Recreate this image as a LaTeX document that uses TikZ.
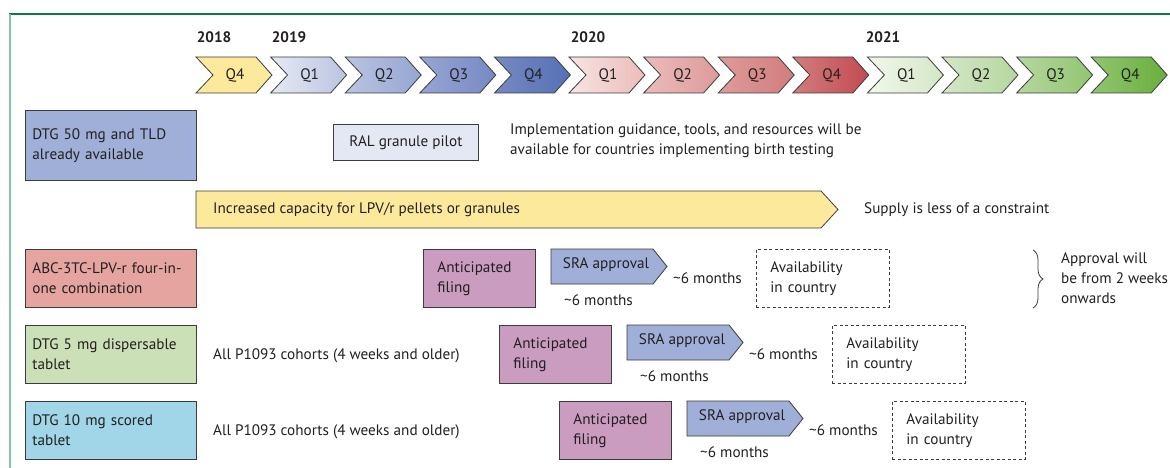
\documentclass[tikz,border=0pt]{standalone}
\usepackage{fontspec}
\setmainfont{PT Sans}
\usepackage{xcolor}
\definecolor{inkgrey}{RGB}{35, 31, 32}
\definecolor{edgegrey}{RGB}{60, 60, 60}
\definecolor{framegreen}{RGB}{10, 122, 74}
\definecolor{framemint}{RGB}{128, 198, 164}
\definecolor{quarteryellow}{RGB}{253, 233, 156}
\definecolor{blueA}{RGB}{230, 233, 244}
\definecolor{blueB}{RGB}{186, 196, 225}
\definecolor{blueC}{RGB}{150, 166, 211}
\definecolor{blueD}{RGB}{118, 137, 196}
\definecolor{blueE}{RGB}{85, 113, 180}
\definecolor{redA}{RGB}{248, 228, 226}
\definecolor{redB}{RGB}{234, 188, 186}
\definecolor{redC}{RGB}{221, 155, 154}
\definecolor{redD}{RGB}{210, 125, 124}
\definecolor{redE}{RGB}{194, 74, 83}
\definecolor{greenA}{RGB}{242, 248, 236}
\definecolor{greenB}{RGB}{211, 231, 198}
\definecolor{greenC}{RGB}{181, 215, 159}
\definecolor{greenD}{RGB}{145, 198, 112}
\definecolor{greenE}{RGB}{105, 174, 61}
\definecolor{dtgblue}{RGB}{160, 175, 216}
\definecolor{ralgrey}{RGB}{228, 232, 244}
\definecolor{abcred}{RGB}{229, 164, 160}
\definecolor{dtggreen}{RGB}{203, 224, 182}
\definecolor{dtgcyan}{RGB}{160, 214, 232}
\definecolor{filingmauve}{RGB}{201, 156, 192}
\usepackage{tikz}
\usetikzlibrary{positioning, decorations.pathreplacing}

\tikzset{
  box/.style={draw=edgegrey, line width=0.8pt, anchor=north west, align=left,
    inner xsep=7pt, inner ysep=0pt},
  availbox/.style={box, dashed, dash pattern=on 3pt off 2.5pt, fill=none},
  note/.style={anchor=west, align=left, inner sep=0pt},
  year/.style={font=\fontsize{15.2}{20}\selectfont\bfseries, inner sep=0pt},
  outline/.style={draw=edgegrey, line width=0.8pt},
}

\begin{document}
\begin{tikzpicture}[x=1pt, y=-1pt, font=\fontsize{15.2}{20}\selectfont, text=inkgrey]
    \useasboundingbox (0,0) rectangle (1170,468);

    % frame
    \draw[framegreen, line width=1.2pt] (9,14) -- (1170,14);
    \draw[framemint, line width=2pt] (10,14) -- (10,468);

    % years and quarters
    \node[year] (yeara) at (214,37) {2018};
    \node[year] (yearb) at (289,37) {2019};
    \node[year] (yearc) at (588,37) {2020};
    \node[year] (yeard) at (883,37) {2021};
    \foreach \i/\q/\cl/\cr in {0/Q4/quarteryellow/quarteryellow,
        1/Q1/blueA/blueB, 2/Q2/blueB/blueC, 3/Q3/blueC/blueD, 4/Q4/blueD/blueE,
        5/Q1/redA/redB, 6/Q2/redB/redC, 7/Q3/redC/redD, 8/Q4/redD/redE,
        9/Q1/greenA/greenB, 10/Q2/greenB/greenC, 11/Q3/greenC/greenD, 12/Q4/greenD/greenE} {
        \pgfmathsetmacro\xa{196+74.6*\i}
        \path[outline, left color=\cl, right color=\cr] (\xa,57) -- ++(60,0) -- ++(16,18)
            -- ++(-16,18) -- ++(-60,0) -- ++(17,-18) -- cycle;
        \node (quarter\i) at (\xa+39,75) {\q};
    }

    % row 1
    \node[box, fill=dtgblue, minimum width=171pt, minimum height=70pt, text width=157pt]
        (dtgfifty) at (25,110) {DTG 50 mg and TLD\\already available};
    \node[box, fill=ralgrey, minimum width=145pt, minimum height=36pt, align=center, inner xsep=0pt]
        (ral) at (333,124) {RAL granule pilot};
    \node[note] (guidance) at (510,141) {Implementation guidance, tools, and resources will be\\available for countries implementing birth testing};

    % row 2
    \path[outline, fill=quarteryellow] (196,191) -- (821,191) -- (838,209.5) -- (821,228) -- (196,228) -- cycle;
    \node[note] (lpv) at (213,209.5) {Increased capacity for LPV/r pellets or granules};
    \node[note] (supply) at (864,209.5) {Supply is less of a constraint};

    % rows 3 to 5
    \node[box, fill=abcred, minimum width=171pt, minimum height=58pt, text width=157pt]
        (abc) at (25,249) {ABC-3TC-LPV-r four-in-\\one combination};
    \node[box, fill=dtggreen, minimum width=171pt, minimum height=58pt, text width=157pt]
        (five) at (25,325) {DTG 5 mg dispersable\\tablet};
    \node[box, fill=dtgcyan, minimum width=171pt, minimum height=58pt, text width=157pt]
        (ten) at (25,401) {DTG 10 mg scored\\tablet};
    \node[note] (cohortfive) at (213,356) {All P1093 cohorts (4 weeks and older)};
    \node[note] (cohortten) at (213,432) {All P1093 cohorts (4 weeks and older)};

    \foreach \r/\xo/\yo in {abc/423/249, five/499/325, ten/559/401} {
        \node[box, fill=filingmauve, minimum width=112pt, minimum height=58pt, text width=84pt, inner xsep=14pt]
            (filing\r) at (\xo,\yo) {Anticipated\\filing};
        \path[outline, fill=dtgblue] (\xo+128,\yo) -- ++(102,0) -- ++(14,17.5) -- ++(-14,17.5)
            -- ++(-102,0) -- cycle;
        \node (sra\r) at (\xo+183,\yo+16) {SRA approval};
        \node[note] (waitsra\r) at (\xo+141,\yo+51) {\textasciitilde6 months};
        \node[note] (waitavail\r) at (\xo+250,\yo+29) {\textasciitilde6 months};
        \node[availbox, minimum width=133pt, minimum height=58pt, text width=105pt, inner xsep=14pt]
            (avail\r) at (\xo+333,\yo) {Availability\\in country};
    }

    % approval note
    \coordinate (bracetop) at (1033,250);
    \coordinate (bracebot) at (1033,308);
    \draw[edgegrey, line width=0.8pt, decorate, decoration={brace, amplitude=10pt}] (bracetop) -- (bracebot);
    \node[note] (approval) at (1061,278) {Approval will\\be from 2 weeks\\onwards};
\end{tikzpicture}
\end{document}
